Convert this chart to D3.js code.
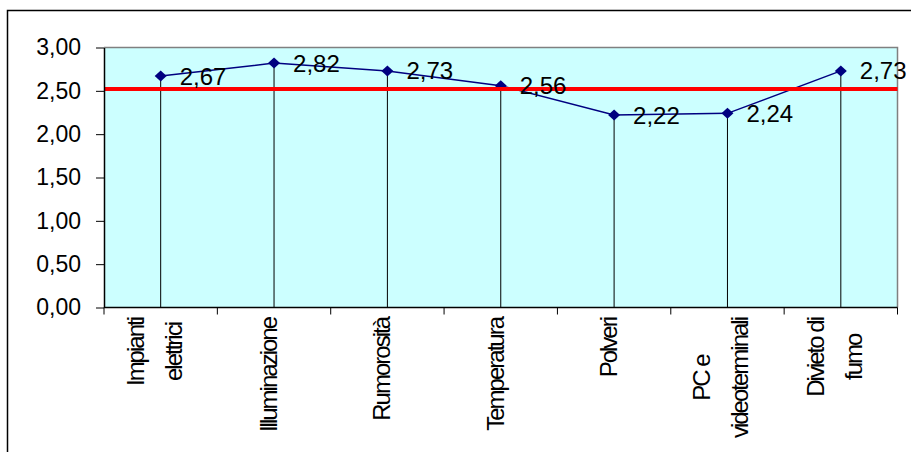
<!DOCTYPE html>
<html><head><meta charset="utf-8">
<script src="https://cdn.jsdelivr.net/npm/d3@7"></script>
<style>
body{margin:0;background:#fff;}
svg{display:block;}
text{font-family:"Liberation Sans",Arial,sans-serif;fill:#000;}
</style>
</head><body>
<svg id="chart" width="911" height="452"></svg>
<script>
// ---- data ----
const categories = [["Impianti","elettrici"],["Illuminazione"],["Rumorosità"],["Temperatura"],["Polveri"],["PC e","videoterminali"],["Divieto di","fumo"]];
const values = [2.67, 2.82, 2.73, 2.56, 2.22, 2.24, 2.73];
const yTicks = [0, 0.5, 1, 1.5, 2, 2.5, 3];
const referenceValue = 2.52;

// ---- layout ----
const svg = d3.select("#chart");
const L = 104, R = 897.5, T = 47.5, B = 307.5;
const fmt = d => d.toFixed(2).replace(".", ",");

const x = d3.scaleBand().domain(d3.range(categories.length)).range([L, R]).padding(0);
const y = d3.scaleLinear().domain([0, 3]).range([B, T]);
const cx = i => x(i) + x.bandwidth() / 2;

// outer chart border (extends beyond the window at right/bottom)
svg.append("rect").attr("x", 7.5).attr("y", 10.5).attr("width", 1000).attr("height", 1000)
  .attr("fill", "#fff").attr("stroke", "#000").attr("stroke-width", 1.5);

// plot area
svg.append("rect").attr("x", L).attr("y", T).attr("width", R - L).attr("height", B - T)
  .attr("fill", "#CCFFFF");
svg.append("path").attr("d", `M${L},${T}H${R}V${B}`).attr("fill", "none")
  .attr("stroke", "#808080").attr("stroke-width", 1.5);

// drop lines
svg.append("g").selectAll("line").data(values).join("line")
  .attr("x1", (d, i) => cx(i)).attr("x2", (d, i) => cx(i))
  .attr("y1", d => y(d)).attr("y2", y(0))
  .attr("stroke", "#000").attr("stroke-width", 1);

// series line
svg.append("path").datum(values)
  .attr("d", d3.line().x((d, i) => cx(i)).y(d => y(d)))
  .attr("fill", "none").attr("stroke", "#000080").attr("stroke-width", 1.5);

// markers
svg.append("g").selectAll("path").data(values).join("path")
  .attr("transform", (d, i) => `translate(${cx(i)},${y(d)})`)
  .attr("d", "M0,-5.5L6,0L0,5.5L-6,0Z")
  .attr("fill", "#000080");

// reference line
svg.append("line").attr("x1", L).attr("x2", R)
  .attr("y1", y(referenceValue)).attr("y2", y(referenceValue))
  .attr("stroke", "#FF0000").attr("stroke-width", 4);

// y axis
const yAxis = svg.append("g").attr("transform", `translate(${L},0)`)
  .call(d3.axisLeft(y).tickValues(yTicks).tickSize(8).tickSizeOuter(0).tickPadding(15).tickFormat(fmt));
yAxis.select(".domain").attr("stroke", "#000").attr("stroke-width", 1.5);
yAxis.selectAll(".tick line").attr("stroke", "#000");
yAxis.selectAll(".tick text").attr("font-size", 23).attr("font-family", '"Liberation Sans",Arial,sans-serif').attr("fill", "#000");

// x axis line and ticks at category boundaries
svg.append("line").attr("x1", L).attr("x2", R).attr("y1", B).attr("y2", B)
  .attr("stroke", "#000").attr("stroke-width", 1.5);
const bounds = d3.range(categories.length + 1).map(i => i < categories.length ? x(i) : R);
svg.append("g").selectAll("line").data(bounds).join("line")
  .attr("x1", d => d).attr("x2", d => d).attr("y1", B).attr("y2", B + 7)
  .attr("stroke", "#000").attr("stroke-width", 1);

// category labels (rotated)
const catG = svg.append("g");
categories.forEach((lines, i) => {
  const n = lines.length;
  const texts = lines.map(s => catG.append("text").text(s)
    .attr("font-size", 24).attr("letter-spacing", -2).attr("text-anchor", "middle"));
  const lens = texts.map(t => t.node().getComputedTextLength());
  const blockLen = d3.max(lens);
  const top = 318;
  texts.forEach((t, j) => {
    const center = cx(i) - (n > 1 ? 5 : 4) + (j - (n - 1) / 2) * 38;
    const bx = center + 7;
    const by = top + blockLen / 2;
    t.attr("transform", `translate(${bx},${by}) rotate(-90)`);
  });
});

// data labels
svg.append("g").selectAll("text").data(values).join("text")
  .attr("x", (d, i) => cx(i) + 19).attr("y", d => y(d)).attr("dy", "0.35em")
  .attr("font-size", 24).text(fmt);
</script>
</body></html>
